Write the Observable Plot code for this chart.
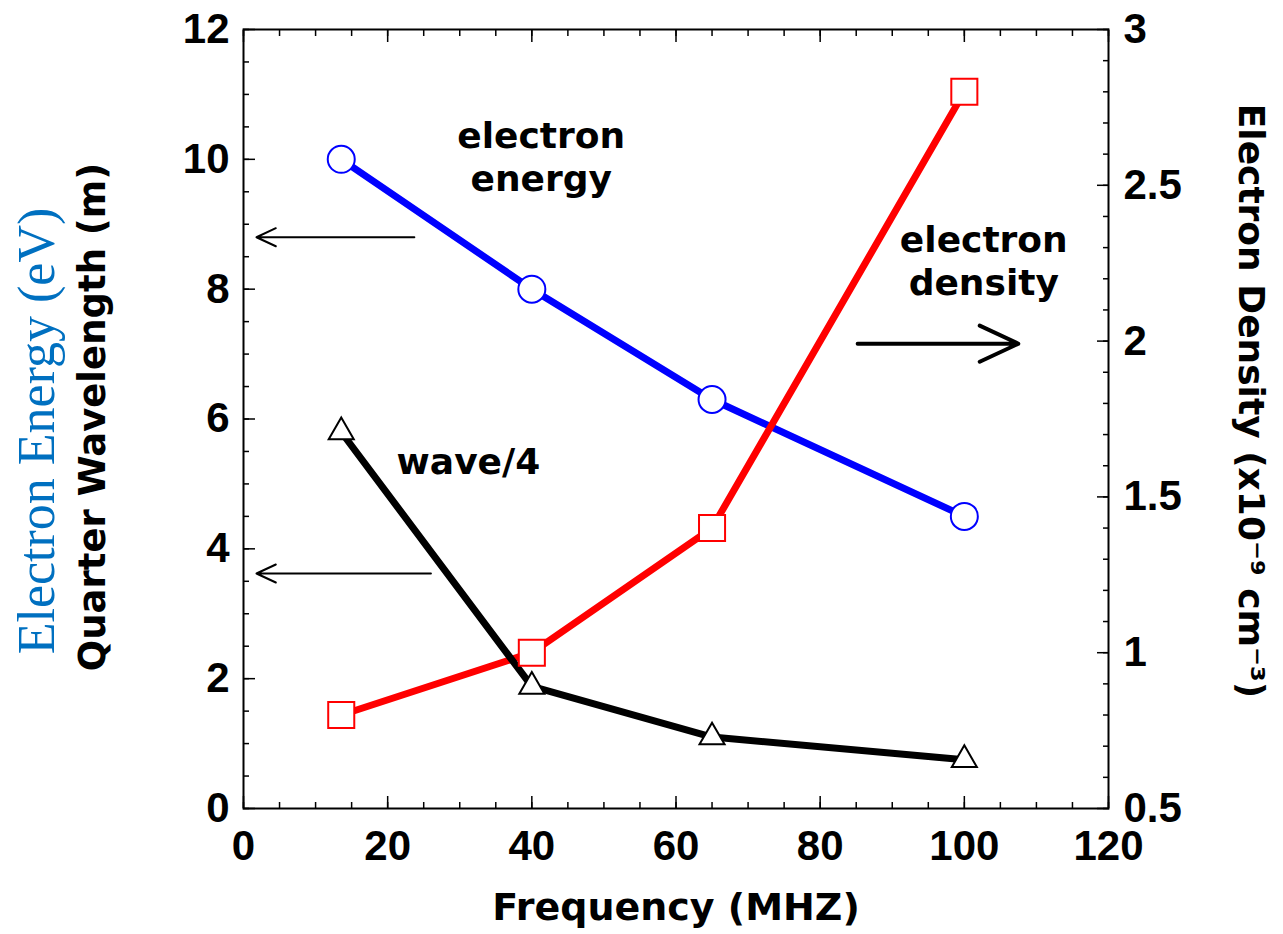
<!DOCTYPE html>
<html><head><meta charset="utf-8">
<script src="https://cdn.jsdelivr.net/npm/d3@7"></script>
<script src="https://cdn.jsdelivr.net/npm/@observablehq/plot@0.6"></script>
<style>body{margin:0;background:#fff;}</style>
</head><body><div id="chart"></div>
<script>
// Data
const freq = [13.56, 40, 65, 100];
const energy = [10, 8, 6.3, 4.5];            // eV (left axis)
const quarterWave = [5.8, 1.88, 1.1, 0.75];  // m (left axis)
const density = [0.8, 1.0, 1.4, 2.8];        // x10^-9 cm^-3 (right axis)

// Axes
const xTicks = [0, 20, 40, 60, 80, 100, 120];
const xMinor = d3.range(0, 121, 5);
const leftTicks = [0, 2, 4, 6, 8, 10, 12];
const leftMinor = d3.range(0, 12.01, 0.5);
const rightTicks = [0.5, 1, 1.5, 2, 2.5, 3];
const rightMinor = d3.range(5, 31).map(i => i / 10);
const leftDomain = [0, 12];
const rightDomain = [0.5, 3];

// Annotations
const noteText = ["electron\nenergy", "electron\ndensity", "wave/4"];
const noteX = [41.3, 102.7, 31.2];
const noteY = [10.06, 8.45, 5.36];
const thinArrowX1 = [23.7, 26.0];
const thinArrowX2 = [1.8, 1.8];
const thinArrowY = [8.8, 3.62];
const thickArrowX1 = [85.2];
const thickArrowX2 = [107.5];
const thickArrowY = [7.16];

const toLeft = d => (d - rightDomain[0]) / (rightDomain[1] - rightDomain[0]) * (leftDomain[1] - leftDomain[0]) + leftDomain[0];
const fromLeft = v => (v - leftDomain[0]) / (leftDomain[1] - leftDomain[0]) * (rightDomain[1] - rightDomain[0]) + rightDomain[0];

const rows = freq.map((f, i) => ({f, energy: energy[i], wave: quarterWave[i], dens: toLeft(density[i])}));
const notes = noteText.map((t, i) => ({t, x: noteX[i], y: noteY[i]}));
const thinArrows = thinArrowX1.map((x1, i) => ({x1, x2: thinArrowX2[i], y: thinArrowY[i]}));
const thickArrows = thickArrowX1.map((x1, i) => ({x1, x2: thickArrowX2[i], y: thickArrowY[i]}));

const tickFont = "'Liberation Sans', Arial, Helvetica, sans-serif";
const titleFont = "'DejaVu Sans', sans-serif";

const plot = Plot.plot({
  width: 1283,
  height: 934,
  marginLeft: 243,
  marginRight: 175,
  marginTop: 29,
  marginBottom: 126,
  style: {background: "white", fontFamily: tickFont, fontWeight: "bold", color: "black"},
  x: {domain: [0, 120]},
  y: {domain: leftDomain},
  marks: [
    // axes
    Plot.axisX({ticks: xTicks, tickSize: -12, tickPadding: 34, fontSize: 42, fontWeight: "bold", label: null, strokeWidth: 1.5}),
    Plot.axisX({ticks: xMinor, tickSize: -6, fill: "none", label: null, strokeWidth: 1.5}),
    Plot.axisX({anchor: "top", ticks: xTicks, tickSize: -12, fill: "none", label: null, strokeWidth: 1.5}),
    Plot.axisX({anchor: "top", ticks: xMinor, tickSize: -6, fill: "none", label: null, strokeWidth: 1.5}),
    Plot.axisY({ticks: leftTicks, tickSize: -12, tickPadding: 26, fontSize: 42, fontWeight: "bold", label: null, strokeWidth: 1.5}),
    Plot.axisY({ticks: leftMinor, tickSize: -6, fill: "none", label: null, strokeWidth: 1.5}),
    Plot.axisY({anchor: "right", ticks: rightTicks.map(toLeft), tickFormat: v => d3.format("~g")(+fromLeft(v).toFixed(2)), tickSize: -12, tickPadding: 27, fontSize: 42, fontWeight: "bold", label: null, strokeWidth: 1.5}),
    Plot.axisY({anchor: "right", ticks: rightMinor.map(toLeft), tickSize: -6, fill: "none", label: null, strokeWidth: 1.5}),
    Plot.frame({stroke: "black", strokeWidth: 2}),
    // series lines
    Plot.line(rows, {x: "f", y: "energy", stroke: "#0000ff", strokeWidth: 7}),
    Plot.line(rows, {x: "f", y: "dens", stroke: "#ff0000", strokeWidth: 7}),
    Plot.line(rows, {x: "f", y: "wave", stroke: "black", strokeWidth: 7}),
    // markers
    Plot.dot(rows, {x: "f", y: "energy", r: 13.5, symbol: "circle", stroke: "#0000ff", strokeWidth: 2, fill: "white"}),
    Plot.dot(rows, {x: "f", y: "dens", r: 14.7, symbol: "square", stroke: "#ff0000", strokeWidth: 2, fill: "white"}),
    Plot.dot(rows, {x: "f", y: "wave", r: 9.3, symbol: "triangle", stroke: "black", strokeWidth: 2, fill: "white"}),
    // annotations
    Plot.text(notes, {x: "x", y: "y", text: "t", fontSize: 36, fontFamily: titleFont, fontWeight: "bold", lineHeight: 1.2, fill: "black"}),
    Plot.arrow(thinArrows, {x1: "x1", x2: "x2", y1: "y", y2: "y", stroke: "black", strokeWidth: 2, headLength: 16, headAngle: 50}),
    Plot.arrow(thickArrows, {x1: "x1", x2: "x2", y1: "y", y2: "y", stroke: "black", strokeWidth: 4, headLength: 16, headAngle: 50}),
    // axis titles
    Plot.text(["Frequency (MHZ)"], {frameAnchor: "bottom", lineAnchor: "middle", textAnchor: "middle", dy: 99, fontSize: 38, fontFamily: titleFont, fontWeight: "bold", fill: "black"}),
    Plot.text(["Quarter Wavelength (m)"], {frameAnchor: "left", textAnchor: "middle", lineAnchor: "middle", dx: -150, dy: -2, rotate: -90, fontSize: 37, fontFamily: titleFont, fontWeight: "bold", fill: "black"}),
    Plot.text(["Electron Energy (eV)"], {frameAnchor: "left", textAnchor: "middle", lineAnchor: "middle", dx: -206, dy: 12, rotate: -90, fontSize: 52, fontFamily: "'Liberation Serif', 'Times New Roman', serif", fontWeight: "normal", fill: "#0070c0"}),
    Plot.text(["Electron Density (x10\u207b\u2079 cm\u207b\u00b3)"], {frameAnchor: "right", textAnchor: "middle", lineAnchor: "middle", dx: 142, dy: -18, rotate: 90, fontSize: 36, fontFamily: titleFont, fontWeight: "bold", fill: "black"})
  ]
});
document.getElementById("chart").appendChild(plot);
</script>
</body></html>
